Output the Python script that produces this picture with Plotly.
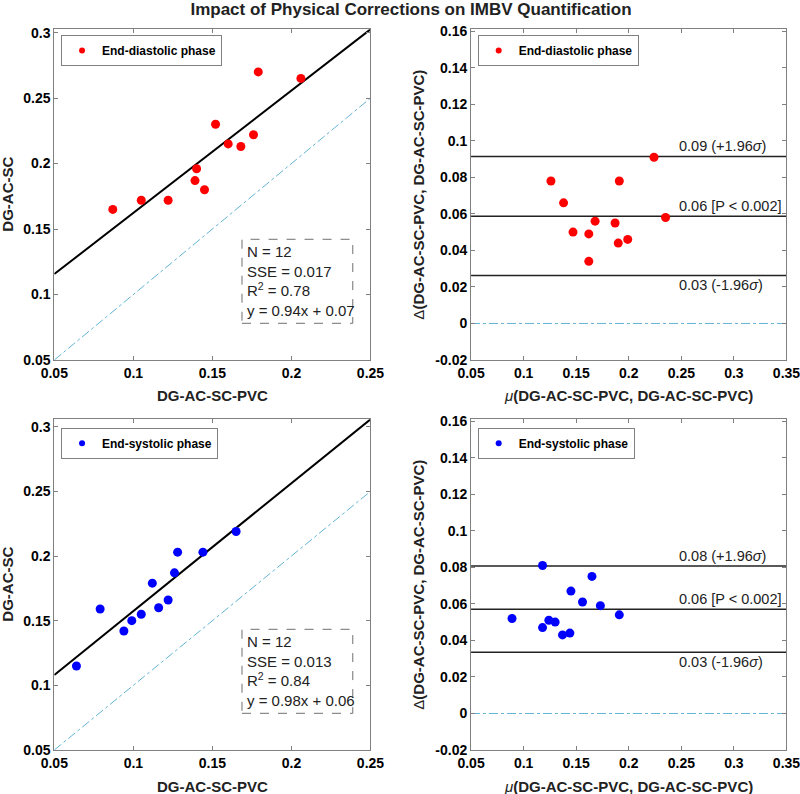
"""Correlation and Bland-Altman panels for the IMBV correction comparison."""

import plotly.graph_objects as go
from plotly.subplots import make_subplots

# End-diastolic phase: correlation panel (DG-AC-SC-PVC vs DG-AC-SC)
ed_pvc = [0.087, 0.105, 0.122, 0.139, 0.145, 0.140, 0.152, 0.160, 0.168, 0.176, 0.179, 0.206]
ed_sc = [0.165, 0.172, 0.172, 0.187, 0.180, 0.196, 0.230, 0.215, 0.213, 0.222, 0.270, 0.265]
ed_fit = [0.9345, 0.0689]  # slope, intercept
ed_stats = ["N = 12", "SSE = 0.017", "R<sup>2</sup> = 0.78", "y = 0.94x + 0.07"]

# End-diastolic phase: Bland-Altman panel
ed_mean = [0.126, 0.138, 0.147, 0.162, 0.162, 0.168, 0.187, 0.191, 0.190, 0.199, 0.224, 0.235]
ed_diff = [0.078, 0.066, 0.050, 0.049, 0.034, 0.056, 0.055, 0.078, 0.044, 0.046, 0.091, 0.058]
ed_limits = [0.0914, 0.0587, 0.0263]  # +1.96 sd, mean, -1.96 sd

# End-systolic phase: correlation panel
es_pvc = [0.165, 0.128, 0.144, 0.126, 0.112, 0.079, 0.116, 0.122, 0.105, 0.099, 0.094, 0.064]
es_sc = [0.219, 0.203, 0.203, 0.187, 0.179, 0.159, 0.160, 0.166, 0.155, 0.150, 0.142, 0.115]
es_fit = [0.9885, 0.0586]
es_stats = ["N = 12", "SSE = 0.013", "R<sup>2</sup> = 0.84", "y = 0.98x + 0.06"]

# End-systolic phase: Bland-Altman panel
es_mean = [0.118, 0.165, 0.145, 0.156, 0.173, 0.191, 0.089, 0.118, 0.124, 0.130, 0.137, 0.144]
es_diff = [0.081, 0.075, 0.067, 0.061, 0.059, 0.054, 0.052, 0.047, 0.051, 0.050, 0.043, 0.044]
es_limits = [0.0807, 0.0570, 0.0335]

limit_tags = ["(+1.96<i>σ</i>)", "[P < 0.002]", "(-1.96<i>σ</i>)"]

corr_xrange = [0.05, 0.25]
ba_xrange = [0.05, 0.35]
ba_yrange = [-0.02, 0.161]

FONT = "Liberation Sans, Arial, sans-serif"
AXIS_GREY = "#808080"
IDENTITY_BLUE = "#62b4d4"

COL_X = [[0.0679, 0.4631], [0.5888, 0.9831]]
ROW_Y = [[0.5466, 0.9631], [0.0554, 0.4719]]


def fmt(v):
    return f"{v:g}"


def frange(lo, hi, step):
    vals = []
    n = int(round((hi - lo) / step))
    for i in range(n + 1):
        vals.append(round(lo + i * step, 4))
    return vals


fig = make_subplots(rows=2, cols=2)


def style_axes(row, col, xr, yr, xstep, ystep, ytop_ticks):
    xt = frange(xr[0], xr[1], xstep)
    yt = frange(yr[0], ytop_ticks, ystep)
    common = dict(
        showline=True,
        linecolor=AXIS_GREY,
        linewidth=1,
        mirror="ticks",
        ticks="inside",
        ticklen=4,
        tickcolor=AXIS_GREY,
        showgrid=False,
        zeroline=False,
        automargin=False,
        ticklabeloverflow="allow",
        tickfont=dict(family=FONT, size=14, color="black", weight="bold"),
    )
    fig.update_xaxes(range=xr, tickvals=xt, ticktext=[fmt(v) for v in xt],
                     domain=COL_X[col - 1], row=row, col=col, **common)
    fig.update_yaxes(range=yr, tickvals=yt, ticktext=[fmt(v) for v in yt],
                     domain=ROW_Y[row - 1], row=row, col=col, **common)


def correlation_panel(row, pvc, sc, fit, stats, colour, label, legend):
    yr = [0.05, fit[0] * corr_xrange[1] + fit[1]]
    fig.add_trace(go.Scatter(
        x=corr_xrange, y=corr_xrange, mode="lines",
        line=dict(color=IDENTITY_BLUE, width=1, dash="dashdot"),
        showlegend=False, hoverinfo="skip"), row=row, col=1)
    fig.add_trace(go.Scatter(
        x=corr_xrange, y=[fit[0] * v + fit[1] for v in corr_xrange], mode="lines",
        line=dict(color="black", width=2), showlegend=False), row=row, col=1)
    fig.add_trace(go.Scatter(
        x=pvc, y=sc, mode="markers", marker=dict(color=colour, size=9),
        showlegend=False), row=row, col=1)
    # legend proxy with a small symbol, as in the original
    fig.add_trace(go.Scatter(
        x=[None], y=[None], mode="markers", marker=dict(color=colour, size=6),
        name=label, legend=legend), row=row, col=1)
    style_axes(row, 1, corr_xrange, yr, 0.05, 0.05, 0.3)

    xa = "x" if row == 1 else "x3"
    ya = "y" if row == 1 else "y3"
    fig.add_shape(type="rect", xref=xa + " domain", yref=ya + " domain",
                  x0=0.5936, x1=0.944, y0=0.111, y1=0.365,
                  line=dict(color="#707070", width=1, dash="dash"))
    fig.add_annotation(xref=xa + " domain", yref=ya + " domain", x=0.602, y=0.238,
                       xanchor="left", yanchor="middle", align="left", showarrow=False,
                       text="<br>".join(stats),
                       font=dict(family=FONT, size=15, color="#222"))


def bland_altman_panel(row, mean, diff, limits, colour, label, legend):
    fig.add_trace(go.Scatter(
        x=ba_xrange, y=[0, 0], mode="lines",
        line=dict(color=IDENTITY_BLUE, width=1, dash="dashdot"),
        showlegend=False, hoverinfo="skip"), row=row, col=2)
    for i, lim in enumerate(limits):
        fig.add_trace(go.Scatter(
            x=ba_xrange, y=[lim, lim], mode="lines",
            line=dict(color="#222", width=1.5), showlegend=False), row=row, col=2)
    fig.add_trace(go.Scatter(
        x=mean, y=diff, mode="markers", marker=dict(color=colour, size=9),
        showlegend=False), row=row, col=2)
    fig.add_trace(go.Scatter(
        x=[None], y=[None], mode="markers", marker=dict(color=colour, size=6),
        name=label, legend=legend), row=row, col=2)
    style_axes(row, 2, ba_xrange, ba_yrange, 0.05, 0.02, 0.16)

    xa = "x2" if row == 1 else "x4"
    ya = "y2" if row == 1 else "y4"
    for i, lim in enumerate(limits):
        below = i == len(limits) - 1
        fig.add_annotation(xref=xa + " domain", yref=ya, x=0.6516, y=lim,
                           xanchor="left", yanchor="top" if below else "bottom",
                           showarrow=False, text=f"{lim:.2f} {limit_tags[i]}",
                           font=dict(family=FONT, size=14.5, color="#222"))


correlation_panel(1, ed_pvc, ed_sc, ed_fit, ed_stats, "#ff0000", "End-diastolic phase", "legend")
bland_altman_panel(1, ed_mean, ed_diff, ed_limits, "#ff0000", "End-diastolic phase", "legend2")
correlation_panel(2, es_pvc, es_sc, es_fit, es_stats, "#0000ff", "End-systolic phase", "legend3")
bland_altman_panel(2, es_mean, es_diff, es_limits, "#0000ff", "End-systolic phase", "legend4")

legend_style = dict(
    xanchor="left", yanchor="top", bgcolor="white",
    bordercolor=AXIS_GREY, borderwidth=1,
    font=dict(family=FONT, size=12, color="black", weight="bold"),
)
fig.update_layout(
    legend=dict(x=0.0763, y=0.9559, **legend_style),
    legend2=dict(x=0.5971, y=0.9559, **legend_style),
    legend3=dict(x=0.0763, y=0.4613, **legend_style),
    legend4=dict(x=0.5971, y=0.4613, **legend_style),
)

# axis titles
title_font = dict(family=FONT, size=15, color="#222", weight="bold")
ba_x_title = "<i style='font-weight:normal'>μ</i>(DG-AC-SC-PVC, DG-AC-SC-PVC)"
ba_y_title = "<span style='font-weight:normal'>Δ</span>(DG-AC-SC-PVC, DG-AC-SC-PVC)"
for bottom, top in ROW_Y:
    xt_y = bottom - 36 / 794
    mid_y = (bottom + top) / 2
    fig.add_annotation(xref="paper", yref="paper", x=sum(COL_X[0]) / 2, y=xt_y,
                       text="DG-AC-SC-PVC", showarrow=False, font=title_font,
                       xanchor="center", yanchor="middle")
    fig.add_annotation(xref="paper", yref="paper", x=sum(COL_X[1]) / 2, y=xt_y,
                       text=ba_x_title, showarrow=False, font=title_font,
                       xanchor="center", yanchor="middle")
    fig.add_annotation(xref="paper", yref="paper", x=8 / 800, y=mid_y,
                       text="DG-AC-SC", textangle=-90, showarrow=False, font=title_font,
                       xanchor="center", yanchor="middle")
    fig.add_annotation(xref="paper", yref="paper", x=419 / 800, y=mid_y,
                       text=ba_y_title, textangle=-90, showarrow=False, font=title_font,
                       xanchor="center", yanchor="middle")

fig.update_layout(
    title=dict(text="<b>Impact of Physical Corrections on IMBV Quantification</b>",
               x=411 / 800, xanchor="center", y=1 - 9 / 794, yanchor="middle",
               font=dict(family=FONT, size=17, color="#222")),
    width=800,
    height=794,
    margin=dict(l=0, r=0, t=0, b=0),
    plot_bgcolor="white",
    paper_bgcolor="white",
    showlegend=True,
)

# the page's default body margin would shift the 800x794 figure off the window
fig.write_html(
    "out.html",
    config={"displayModeBar": False},
    post_script="document.body.style.margin='0';document.body.style.overflow='hidden';",
)
